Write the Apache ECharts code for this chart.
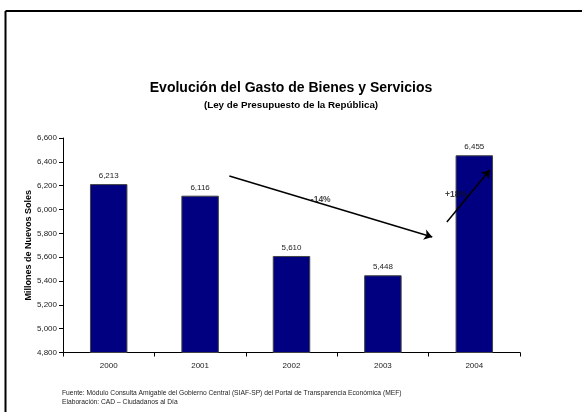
<!DOCTYPE html>
<html><head><meta charset="utf-8">
<script src="https://cdn.jsdelivr.net/npm/echarts@6/dist/echarts.min.js"></script>
<style>html,body{margin:0;padding:0;background:#fff}#c{width:582px;height:412px}</style>
</head><body><div id="c"></div>
<script>
const categories = ['2000','2001','2002','2003','2004'];
const gasto = [6213, 6116, 5610, 5448, 6455];
const yTicks = [4800, 5000, 5200, 5400, 5600, 5800, 6000, 6200, 6400, 6600];
const arrowFrom = [[1.32, 6281], [3.70, 5895]];
const arrowTo = [[3.54, 5769], [4.17, 6332]];
const arrowText = ['-14%', '+18%'];
const arrowTextAt = [[2.32, 6085], [3.80, 6122]];

const chart = echarts.init(document.getElementById('c'), null, {renderer: 'canvas'});
const F = 'Arial, "Liberation Sans", sans-serif';
chart.setOption({
  animation: false,
  backgroundColor: '#fff',
  title: [
    {text: 'Evolución del Gasto de Bienes y Servicios', left: 'center', top: 76,
     textStyle: {fontFamily: F, fontSize: 14, fontWeight: 'bold', color: '#000'}},
    {text: '(Ley de Presupuesto de la República)', left: 'center', top: 95,
     textStyle: {fontFamily: F, fontSize: 9.8, fontWeight: 'bold', color: '#000'}}
  ],
  graphic: [
    {type: 'line', shape: {x1: 5.5, y1: 11, x2: 600, y2: 11}, style: {stroke: '#000', lineWidth: 2}},
    {type: 'line', shape: {x1: 5.5, y1: 11, x2: 5.5, y2: 420}, style: {stroke: '#000', lineWidth: 2}},
    {type: 'text', left: 62, top: 389, style: {text: 'Fuente: Módulo Consulta Amigable del Gobierno Central (SIAF-SP) del Portal de Transparencia Económica (MEF)\nElaboración: CAD – Ciudadanos al Día', font: '6.7px Arial, "Liberation Sans", sans-serif', fill: '#222', lineHeight: 9}}
  ],
  grid: {left: 63, right: 62, top: 138, bottom: 59.5, containLabel: false},
  xAxis: [
    {type: 'category', data: categories,
     axisLine: {lineStyle: {color: '#000', width: 1}},
     axisTick: {show: true, length: 4, inside: false, lineStyle: {color: '#000'}},
     axisLabel: {fontFamily: F, fontSize: 8, color: '#222', margin: 9}},
    {type: 'value', min: -0.5, max: 4.5, show: false}
  ],
  yAxis: {type: 'value', min: yTicks[0], max: yTicks[yTicks.length - 1], interval: 200,
    name: 'Millones de Nuevos Soles', nameLocation: 'middle', nameGap: 30, nameRotate: 90,
    nameMoveOverlap: false,
    nameTextStyle: {fontFamily: F, fontSize: 9, fontWeight: 'bold', color: '#000'},
    axisLine: {show: true, onZero: false, lineStyle: {color: '#000', width: 1}},
    axisTick: {show: true, length: 4, lineStyle: {color: '#000'}},
    splitLine: {show: false},
    axisLabel: {fontFamily: F, fontSize: 8, color: '#222', margin: 6,
      formatter: v => v.toLocaleString('en-US')}},
  series: [
    {type: 'bar', data: gasto, barWidth: '41%',
     itemStyle: {color: '#000080', borderColor: '#444', borderWidth: 1},
     label: {show: true, position: 'top', distance: 4, fontFamily: F, fontSize: 8, color: '#222',
       formatter: p => p.value.toLocaleString('en-US')}},
    {type: 'scatter', xAxisIndex: 1, symbolSize: 2, itemStyle: {color: 'rgba(0,0,0,0)'},
     data: arrowTextAt.map((p, i) => ({value: p, name: arrowText[i]})),
     label: {show: true, position: 'inside', fontFamily: F, fontSize: 8.5, fontWeight: 'bold', color: '#111',
       formatter: p => p.name},
     labelLayout: {hideOverlap: false},
     z: 5,
     markLine: {silent: true, symbol: ['none', 'arrow'], symbolSize: 8,
       lineStyle: {color: '#000', width: 1.5, type: 'solid'}, label: {show: false},
       data: arrowFrom.map((a, i) => [{coord: a}, {coord: arrowTo[i]}])}}
  ]
});
</script></body></html>
